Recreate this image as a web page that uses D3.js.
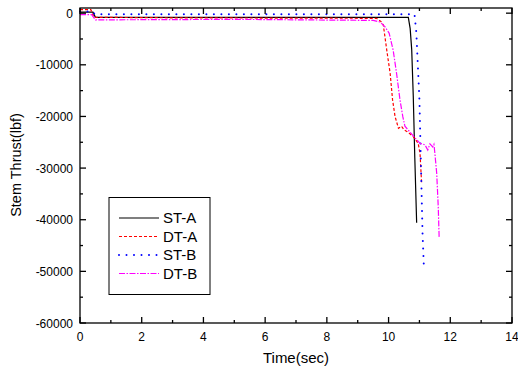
<!DOCTYPE html>
<html>
<head>
<meta charset="utf-8">
<script src="https://cdn.jsdelivr.net/npm/d3@7"></script>
<style>
  body { margin: 0; background: #fff; }
  svg text { font-family: "Liberation Sans", Arial, sans-serif; fill: #000; }
</style>
</head>
<body>
<svg id="chart" width="518" height="372"></svg>
<script>
// Data: [time (sec), thrust (lbf)]
const stA = [[0, 200], [0.42, 200], [0.5, -800], [10.64, -800], [10.7, -3000], [10.75, -7100],
  [10.8, -16000], [10.85, -28000], [10.91, -40600]];
const dtA = [[0, 700], [0.35, 700], [0.45, -800], [3, -900], [9.61, -1000], [9.75, -1600], [9.83, -2300],
  [9.94, -7100], [10.05, -11600], [10.13, -16800], [10.21, -20000], [10.32, -22300],
  [10.42, -21900], [10.5, -22600], [10.59, -22900], [10.7, -23400], [10.8, -23900],
  [10.96, -25200], [11.02, -27200], [11.07, -32900]];
const stB = [[0, 300], [0.4, 300], [0.48, -200], [10.84, -200], [10.9, -3800], [11.0, -16800],
  [11.05, -29700], [11.1, -42500], [11.14, -48500]];
const dtB = [[0, -300], [0.38, -300], [0.5, -1300], [5, -1200], [9.5, -1400], [9.72, -1700], [9.88, -2600],
  [10.02, -3900], [10.15, -7200], [10.26, -11700], [10.37, -16800], [10.46, -20000],
  [10.53, -21900], [10.69, -23000], [10.86, -24200], [11.02, -25200], [11.18, -25500],
  [11.27, -26500], [11.34, -25300], [11.43, -25900], [11.47, -25400], [11.5, -27100],
  [11.56, -31000], [11.61, -37500], [11.64, -43600]];

const seriesNames = ['ST-A', 'DT-A', 'ST-B', 'DT-B'];
const seriesData = [stA, dtA, stB, dtB];
const seriesColors = ['#000000', '#ff0000', '#0000ff', '#ff00ff'];
const seriesDash = ['none', '3,2', '0,7.5', '6,1.5,1.5,1.5'];

const xTicks = [0, 2, 4, 6, 8, 10, 12, 14];
const yTicks = [0, -10000, -20000, -30000, -40000, -50000, -60000];

const svg = d3.select('#chart');
const margin = {left: 80, right: 6, top: 8, bottom: 49};
const W = 518, H = 372;

const x = d3.scaleLinear().domain([0, 14]).range([margin.left, W - margin.right]);
const y = d3.scaleLinear().domain([-60000, 1000]).range([H - margin.bottom, margin.top]);

const xMinor = d3.range(1, 14, 2);
const yMinor = d3.range(-55000, 1, 10000);

// styles a path or line as series i
const styleSeries = (sel, i) => sel
  .attr('stroke', seriesColors[i])
  .attr('stroke-width', i === 2 ? 2 : 1.2)
  .attr('stroke-linecap', i === 2 ? 'round' : 'butt')
  .attr('stroke-dasharray', seriesDash[i]);

// Lines
const g = svg.append('g');
const line = d3.line().x(d => x(d[0])).y(d => y(d[1]));
seriesData.forEach((data, i) => {
  g.append('path')
    .datum(data)
    .attr('d', line)
    .attr('fill', 'none')
    .call(styleSeries, i);
});

// Frame
const axes = svg.append('g').attr('stroke', '#000').attr('stroke-width', 1.3);
axes.append('rect')
  .attr('x', x(0)).attr('y', y(1000))
  .attr('width', x(14) - x(0)).attr('height', y(-60000) - y(1000))
  .attr('fill', 'none');

// ticks, inward on all four sides
const xTick = (t, len) => {
  axes.append('line').attr('x1', x(t)).attr('x2', x(t)).attr('y1', y(-60000)).attr('y2', y(-60000) - len);
  axes.append('line').attr('x1', x(t)).attr('x2', x(t)).attr('y1', y(1000)).attr('y2', y(1000) + len);
};
const yTick = (t, len) => {
  axes.append('line').attr('x1', x(0)).attr('x2', x(0) + len).attr('y1', y(t)).attr('y2', y(t));
  axes.append('line').attr('x1', x(14)).attr('x2', x(14) - len).attr('y1', y(t)).attr('y2', y(t));
};
xTicks.forEach(t => xTick(t, 6));
xMinor.forEach(t => xTick(t, 3));
yTicks.forEach(t => yTick(t, 6));
yMinor.forEach(t => yTick(t, 3));

// Tick labels
svg.selectAll('text.xt').data(xTicks).join('text')
  .attr('class', 'xt')
  .attr('x', d => x(d)).attr('y', y(-60000) + 18)
  .attr('text-anchor', 'middle').attr('font-size', 12)
  .text(d => d);
svg.selectAll('text.yt').data(yTicks).join('text')
  .attr('class', 'yt')
  .attr('x', x(0) - 7).attr('y', d => y(d) + 4.5)
  .attr('text-anchor', 'end').attr('font-size', 12)
  .text(d => d);

// Axis titles
svg.append('text')
  .attr('x', 296).attr('y', 363)
  .attr('text-anchor', 'middle').attr('font-size', 15)
  .text('Time(sec)');
svg.append('text')
  .attr('transform', `translate(20.5,165) rotate(-90)`)
  .attr('text-anchor', 'middle').attr('font-size', 14.5)
  .text('Stem Thrust(lbf)');

// Legend
const legend = svg.append('g');
legend.append('rect')
  .attr('x', 109).attr('y', 197.5).attr('width', 101).attr('height', 97)
  .attr('fill', '#fff').attr('stroke', '#000').attr('stroke-width', 1);
seriesNames.forEach((name, i) => {
  const ly = 218 + i * 18.5;
  legend.append('line')
    .attr('x1', 119).attr('x2', 159).attr('y1', ly).attr('y2', ly)
    .call(styleSeries, i);
  legend.append('text')
    .attr('x', 163).attr('y', ly + 5)
    .attr('font-size', 15)
    .text(name);
});
</script>
</body>
</html>
